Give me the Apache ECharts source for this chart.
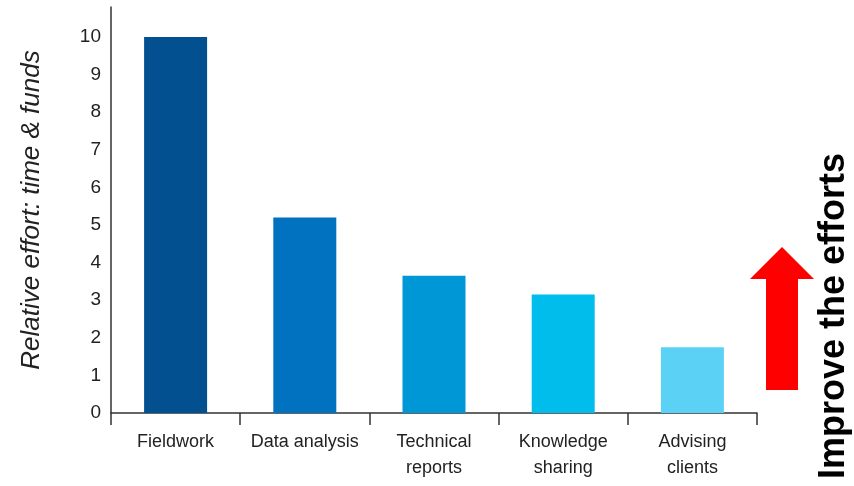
<!DOCTYPE html>
<html>
<head>
<meta charset="utf-8">
<script src="https://cdn.jsdelivr.net/npm/echarts@6/dist/echarts.min.js"></script>
<style>
  html, body { margin: 0; padding: 0; background: #fff; }
  #chart { width: 854px; height: 486px; }
</style>
</head>
<body>
<div id="chart"></div>
<script>
// data
var categories = ['Fieldwork', 'Data analysis', 'Technical\nreports', 'Knowledge\nsharing', 'Advising\nclients'];
var effort = [10, 5.2, 3.65, 3.15, 1.75];
var barColors = ['#02508f', '#0072bf', '#0097d7', '#00bdec', '#5bd1f5'];

var narrow = '"Liberation Sans Narrow", "Arial Narrow", "Liberation Sans", sans-serif';

var myChart = echarts.init(document.getElementById('chart'));

var option = {
  animation: false,
  grid: { left: 111, right: 97, top: 7, bottom: 73 },
  xAxis: {
    type: 'category',
    data: categories,
    axisLine: { lineStyle: { color: '#333', width: 1.5 } },
    axisTick: { show: true, interval: 0, length: 12, lineStyle: { color: '#333', width: 1.5 } },
    axisLabel: {
      interval: 0,
      color: '#222', fontSize: 18, fontFamily: narrow,
      lineHeight: 26, margin: 16
    }
  },
  yAxis: {
    type: 'value',
    min: 0, max: 10.8, interval: 1,
    name: 'Relative effort: time & funds',
    nameLocation: 'middle',
    nameGap: 66,
    nameTextStyle: { fontSize: 26, fontStyle: 'italic', color: '#222', fontFamily: '"Liberation Sans", Arial, sans-serif' },
    splitLine: { show: false },
    axisLine: { show: true, lineStyle: { color: '#333', width: 1.5 } },
    axisTick: { show: false },
    axisLabel: {
      color: '#222', fontSize: 19, fontFamily: narrow, margin: 10,
      showMaxLabel: false
    }
  },
  series: [{
    type: 'bar',
    barWidth: 63,
    data: effort.map(function (v, i) {
      return { value: v, itemStyle: { color: barColors[i] } };
    })
  }],
  graphic: [
    {
      type: 'polygon',
      shape: { points: [[782, 247], [814, 279], [798, 279], [798, 390], [766, 390], [766, 279], [750, 279]] },
      style: { fill: '#ff0000' }
    },
    {
      type: 'text',
      x: 834, y: 316,
      rotation: Math.PI / 2,
      style: {
        text: 'Improve the efforts',
        font: 'bold 36px "Liberation Sans", Arial, sans-serif',
        fill: '#000',
        textAlign: 'center',
        textVerticalAlign: 'middle'
      }
    }
  ]
};

myChart.setOption(option);
</script>
</body>
</html>
